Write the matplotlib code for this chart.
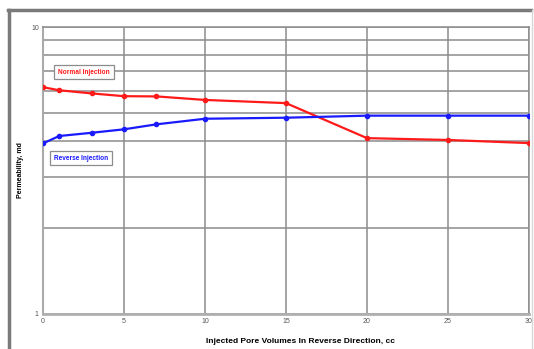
import matplotlib
matplotlib.use("Agg")
import matplotlib.pyplot as plt
from matplotlib.lines import Line2D
from matplotlib.ticker import FixedLocator, NullFormatter

plt.rcParams['font.family'] = ['Liberation Sans', 'DejaVu Sans']

# pore volumes injected (cc) and measured permeability (md)
pv = [0, 1, 3, 5, 7, 10, 15, 20, 25, 30]
k_normal = [6.17, 6.02, 5.87, 5.74, 5.73, 5.57, 5.43, 4.10, 4.04, 3.94]
k_reverse = [3.93, 4.17, 4.28, 4.40, 4.58, 4.79, 4.83, 4.91, 4.91, 4.91]
xticks = [0, 5, 10, 15, 20, 25, 30]

fig = plt.figure(figsize=(5.34, 3.49), dpi=100)
ax = fig.add_axes([43/534, 1 - 314/349, 486/534, 287/349])

grid_c = '#8c8c8c'
ax.set_yscale('log')
ax.set_xlim(0, 30)
ax.set_ylim(1, 10)
ax.set_xticks(xticks)
ax.set_xticklabels([str(t) for t in xticks])
ax.yaxis.set_major_locator(FixedLocator([1, 10]))
ax.yaxis.set_minor_locator(FixedLocator(range(2, 10)))
ax.yaxis.set_minor_formatter(NullFormatter())
ax.set_yticklabels(['1', '10'])
ax.grid(True, which='both', color=grid_c, lw=1.1)
ax.tick_params(which='both', length=0, labelsize=5, colors='#555555', pad=3)
for s in ['top', 'right']:
    ax.spines[s].set_color(grid_c)
    ax.spines[s].set_linewidth(1.1)
ax.spines['left'].set_color('#aaaaaa')
ax.spines['bottom'].set_color('#b0b0b0')
ax.spines['bottom'].set_linewidth(2)
ax.spines['left'].set_linewidth(1.5)

ax.plot(pv, k_normal, color='#ff1a1a', lw=1.6, marker='o', ms=3, zorder=3)
ax.plot(pv, k_reverse, color='#1a1aff', lw=1.6, marker='o', ms=3, zorder=3)

ax.set_xlabel('Injected Pore Volumes In Reverse Direction, cc',
              fontsize=6, fontweight='bold')
ax.xaxis.set_label_coords(0.529, -0.085)
ax.set_ylabel('Permeability, md', fontsize=5, fontweight='bold', labelpad=5)

box = dict(boxstyle='square,pad=0.6', fc='white', ec='#8c8c8c', lw=0.9)
fig.text(84/534, 1 - 72/349, 'Normal Injection', color='#ff1a1a', fontsize=4.7,
         fontweight='bold', ha='center', va='center', bbox=box)
fig.text(81/534, 1 - 158/349, 'Reverse Injection', color='#1a1aff', fontsize=4.7,
         fontweight='bold', ha='center', va='center', bbox=box)

# outer chart frame
fig.add_artist(Line2D([8/534, 531/534], [1 - 10/349, 1 - 10/349],
                      transform=fig.transFigure, color='#7a7a7a', lw=2.5))
fig.add_artist(Line2D([9/534, 9/534], [0, 1 - 10/349],
                      transform=fig.transFigure, color='#7a7a7a', lw=2.5))
fig.add_artist(Line2D([532/534, 532/534], [0, 1 - 10/349],
                      transform=fig.transFigure, color='#d8d8d8', lw=1))

fig.savefig('out.png', dpi=100)
